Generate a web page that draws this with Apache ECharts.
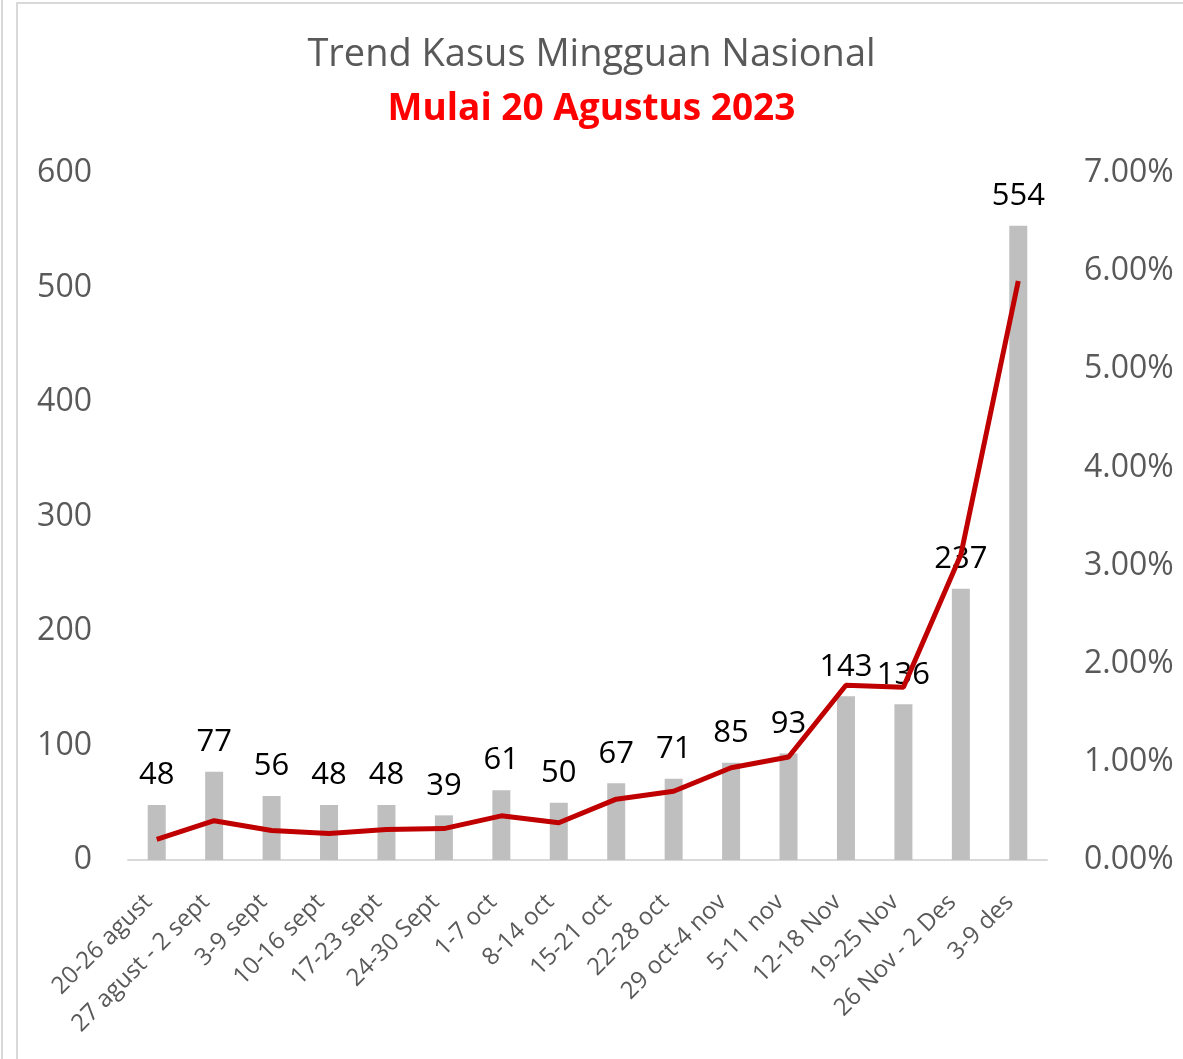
<!DOCTYPE html>
<html>
<head>
<meta charset="utf-8">
<script src="https://cdn.jsdelivr.net/npm/echarts@6/dist/echarts.min.js"></script>
<style>
  html, body { margin: 0; padding: 0; background: #fff; }
  #chart { width: 1183px; height: 1059px; }
</style>
</head>
<body>
<div id="chart"></div>
<script>
// data
const weeks = [
  "20-26 agust", "27 agust - 2 sept", "3-9 sept", "10-16 sept", "17-23 sept",
  "24-30 Sept", "1-7 oct", "8-14 oct", "15-21 oct", "22-28 oct",
  "29 oct-4 nov", "5-11 nov", "12-18 Nov", "19-25 Nov", "26 Nov - 2 Des", "3-9 des"
];
const cases = [48, 77, 56, 48, 48, 39, 61, 50, 67, 71, 85, 93, 143, 136, 237, 554];
// percent values (right axis)
const rate = [0.21, 0.40, 0.30, 0.27, 0.31, 0.32, 0.45, 0.38, 0.62, 0.70, 0.94, 1.05, 1.78, 1.76, 3.11, 5.90];

const FONT = "Open Sans";
const chart = echarts.init(document.getElementById("chart"));

chart.setOption({
  animation: false,
  backgroundColor: "#fff",
  textStyle: { fontFamily: FONT },
  graphic: [
    // frame lines of the original screenshot
    { type: "line", shape: { x1: 2, y1: 0, x2: 2, y2: 1059 }, style: { stroke: "#d9d9d9", lineWidth: 2 } },
    { type: "rect", shape: { x: 17, y: 3, width: 1200, height: 1100 }, style: { fill: null, stroke: "#d9d9d9", lineWidth: 2 } }
  ],
  title: [
    {
      text: "Trend Kasus Mingguan Nasional",
      left: "center", top: 31,
      textStyle: { fontFamily: FONT, fontSize: 38, fontWeight: "normal", color: "#595959" }
    },
    {
      text: "Mulai 20 Agustus 2023",
      left: "center", top: 86,
      textStyle: { fontFamily: FONT, fontSize: 37, fontWeight: "bold", color: "#ff0000" }
    }
  ],
  grid: { left: 128, right: 136, top: 173, bottom: 199 },
  xAxis: {
    type: "category",
    data: weeks,
    axisLine: { lineStyle: { color: "#d9d9d9", width: 2 } },
    axisTick: { show: false },
    axisLabel: {
      rotate: 45, interval: 0, margin: 30, padding: [0, 12, 0, 0],
      fontSize: 24, color: "#595959", fontFamily: FONT
    }
  },
  yAxis: [
    {
      type: "value", min: 0, max: 600, interval: 100,
      splitLine: { show: false },
      axisLine: { show: false }, axisTick: { show: false },
      axisLabel: { margin: 36, fontSize: 32, color: "#595959", fontFamily: FONT, padding: [4, 0, 0, 0] }
    },
    {
      type: "value", min: 0, max: 7, interval: 1,
      splitLine: { show: false },
      axisLine: { show: false }, axisTick: { show: false },
      axisLabel: {
        margin: 37, fontSize: 32, color: "#595959", fontFamily: FONT, padding: [4, 0, 0, 0],
        formatter: v => v.toFixed(2) + "%"
      }
    }
  ],
  series: [
    {
      name: "Kasus",
      type: "bar",
      data: cases,
      barWidth: 18,
      itemStyle: { color: "#bfbfbf" },
      label: { show: true, position: "top", distance: 14, fontSize: 31, color: "#000", fontFamily: FONT }
    },
    {
      name: "Rate",
      type: "line",
      yAxisIndex: 1,
      data: rate,
      symbol: "none",
      lineStyle: { color: "#c00000", width: 5 },
      z: 5
    }
  ]
});
</script>
</body>
</html>
